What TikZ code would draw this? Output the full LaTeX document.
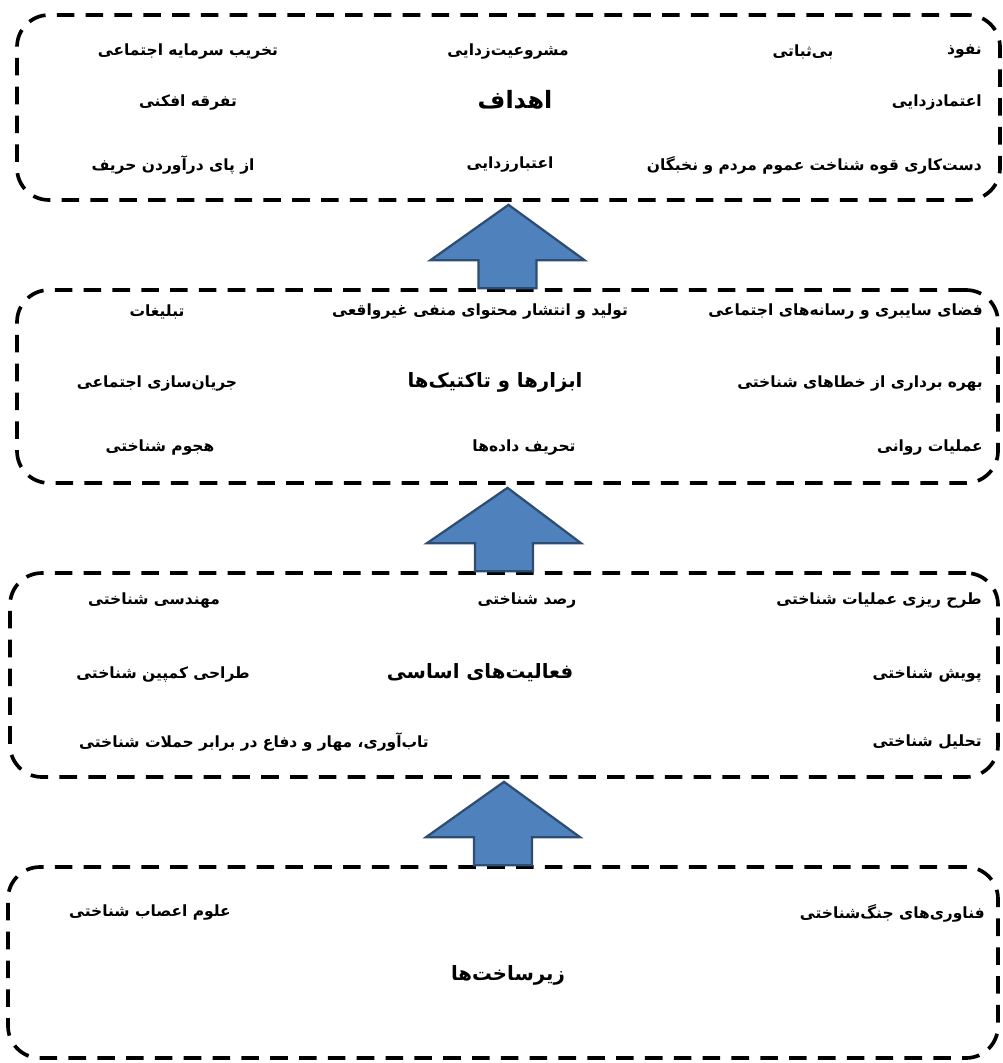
\documentclass[tikz,border=0pt]{standalone}
\usepackage{fontspec}
\newfontfamily\arabicfont[Script=Arabic]{DejaVu Sans}
\TeXXeTstate=1
\usetikzlibrary{calc,fit}
\definecolor{arrowblue}{HTML}{4F81BD}
\definecolor{arrowline}{HTML}{2E4D73}
\newcommand{\fatext}[1]{\beginR #1\endR}

\begin{document}
\begin{tikzpicture}
 [x=0.025cm,y=-0.025cm,
  layer/.style={draw,line width=2.6pt,dash pattern=on 12.5pt off 8pt,rounded corners=0.8cm,inner sep=0pt},
  it/.style={font=\arabicfont\bfseries\fontsize{11}{13}\selectfont,inner sep=0pt},
  ttl/.style={font=\arabicfont\bfseries\fontsize{14}{16}\selectfont,inner sep=0pt},
  bigarrow/.style={fill=arrowblue,draw=arrowline,line width=1.6pt}]
 \useasboundingbox (0,0) rectangle (1002,1063);
 \node[layer,fit={(17,15) (1000,200)}] (b1) {};
 \node[layer,fit={(17,290) (998,483)}] (b2) {};
 \node[layer,fit={(10,573) (998,777)}] (b3) {};
 \node[layer,fit={(8,867) (998,1058)}] (b4) {};
 \node[it,anchor=east] (g1) at (982,52) {\fatext{نفوذ}};
 \node[it] (g2) at (803,52) {\fatext{بی‌ثباتی}};
 \node[it] (g3) at (508,52) {\fatext{مشروعیت‌زدایی}};
 \node[it] (g4) at (188,52) {\fatext{تخریب سرمایه اجتماعی}};
 \node[it,anchor=east] (g5) at (982,103) {\fatext{اعتمادزدایی}};
 \node[ttl,font=\arabicfont\bfseries\fontsize{17}{19}\selectfont] (goals) at (515,100) {\fatext{اهداف}};
 \node[it] (g6) at (188,103) {\fatext{تفرقه افکنی}};
 \node[it,anchor=east] (g7) at (982,165) {\fatext{دست‌کاری قوه شناخت عموم مردم و نخبگان}};
 \node[it] (g8) at (510,165) {\fatext{اعتبارزدایی}};
 \node[it] (g9) at (173,165) {\fatext{از پای درآوردن حریف}};
 \node[it,anchor=east] (t1) at (983,312) {\fatext{فضای سایبری و رسانه‌های اجتماعی}};
 \node[it] (t2) at (480,312) {\fatext{تولید و انتشار محتوای منفی غیرواقعی}};
 \node[it] (t3) at (157,312) {\fatext{تبلیغات}};
 \node[it,anchor=east] (t4) at (983,384) {\fatext{بهره برداری از خطاهای شناختی}};
 \node[ttl] (tools) at (495,382) {\fatext{ابزارها و تاکتیک‌ها}};
 \node[it] (t5) at (157,384) {\fatext{جریان‌سازی اجتماعی}};
 \node[it,anchor=east] (t6) at (983,448) {\fatext{عملیات روانی}};
 \node[it] (t7) at (524,448) {\fatext{تحریف داده‌ها}};
 \node[it] (t8) at (160,448) {\fatext{هجوم شناختی}};
 \node[it,anchor=east] (a1) at (982,601) {\fatext{طرح ریزی عملیات شناختی}};
 \node[it] (a2) at (527,601) {\fatext{رصد شناختی}};
 \node[it] (a3) at (154,601) {\fatext{مهندسی شناختی}};
 \node[it,anchor=east] (a4) at (982,675) {\fatext{پویش شناختی}};
 \node[ttl] (acts) at (480,673) {\fatext{فعالیت‌های اساسی}};
 \node[it] (a5) at (163,675) {\fatext{طراحی کمپین شناختی}};
 \node[it,anchor=east] (a6) at (982,742) {\fatext{تحلیل شناختی}};
 \node[it] (a7) at (254,742) {\fatext{تاب‌آوری، مهار و دفاع در برابر حملات شناختی}};
 \node[it,anchor=east] (i1) at (985,913) {\fatext{فناوری‌های جنگ‌شناختی}};
 \node[it] (i2) at (150,913) {\fatext{علوم اعصاب شناختی}};
 \node[ttl] (infra) at (508,975) {\fatext{زیرساخت‌ها}};
 \foreach \lb/\hb in {b2/b1,b3/b2,b4/b3}
  \draw[bigarrow] ($(\lb.north)+(-29,0)$) -- ++(0,-28) -- ++(-48,0)
   -- ($(\hb.south)+(0,3)$) -- ($(\lb.north)+(77,-28)$) -- ++(-48,0)
   -- ($(\lb.north)+(29,0)$) -- cycle;
\end{tikzpicture}
\end{document}
